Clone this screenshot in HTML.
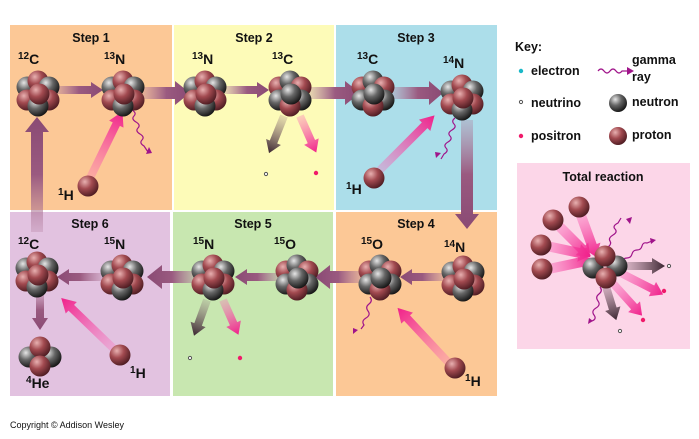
<!DOCTYPE html>
<html><head><meta charset="utf-8"><style>
html,body{margin:0;padding:0;background:#fff}
svg{display:block}
text{font-family:"Liberation Sans",sans-serif;font-weight:bold;fill:#111}
</style></head><body>
<svg width="699" height="439" viewBox="0 0 699 439" xmlns="http://www.w3.org/2000/svg">
<defs>
<radialGradient id="gp" cx="0.35" cy="0.3" r="0.75"><stop offset="0" stop-color="#e8b0b0"/><stop offset="0.45" stop-color="#a24a50"/><stop offset="1" stop-color="#4a1a20"/></radialGradient>
<radialGradient id="gn" cx="0.35" cy="0.3" r="0.75"><stop offset="0" stop-color="#e6e6e6"/><stop offset="0.45" stop-color="#666"/><stop offset="1" stop-color="#111"/></radialGradient>
<linearGradient id="ga" x1="0" y1="0" x2="1" y2="0"><stop offset="0" stop-color="#b07a9a" stop-opacity="0.3"/><stop offset="0.5" stop-color="#9a5a80"/><stop offset="1" stop-color="#8a4a74"/></linearGradient>
<linearGradient id="gk" x1="0" y1="0" x2="1" y2="0"><stop offset="0" stop-color="#fa6ab8" stop-opacity="0.3"/><stop offset="1" stop-color="#f0208a"/></linearGradient>
<linearGradient id="gd" x1="0" y1="0" x2="1" y2="0"><stop offset="0" stop-color="#8a6a78" stop-opacity="0.2"/><stop offset="1" stop-color="#3a2530"/></linearGradient>
<symbol id="p" overflow="visible"><circle r="10.5" fill="url(#gp)"/></symbol>
<symbol id="n" overflow="visible"><circle r="10.5" fill="url(#gn)"/></symbol>
<g id="nucA">
<use href="#n" x="-11" y="-6"/><use href="#p" x="0" y="-12"/><use href="#n" x="11" y="-6"/>
<use href="#p" x="-11" y="7"/><use href="#p" x="11" y="7"/><use href="#n" x="0" y="13"/>
<use href="#p" x="1" y="1"/>
</g>
<g id="nucB">
<use href="#p" x="-11" y="-6"/><use href="#n" x="0" y="-12"/><use href="#p" x="11" y="-6"/>
<use href="#n" x="-11" y="7"/><use href="#n" x="11" y="7"/><use href="#p" x="0" y="13"/>
<use href="#n" x="1" y="1"/>
</g>
</defs>

<rect x="10" y="25" width="162" height="185" fill="#fcc896"/>
<rect x="174" y="25" width="160" height="185" fill="#fdfbb8"/>
<rect x="336" y="25" width="161" height="185" fill="#acdeea"/>
<rect x="10" y="212" width="160" height="184" fill="#e2c2e0"/>
<rect x="173" y="212" width="160" height="184" fill="#c8e7b0"/>
<rect x="336" y="212" width="161" height="184" fill="#fcc896"/>
<rect x="517" y="163" width="173" height="186" fill="#fcd6e8"/>

<g font-size="12.5" text-anchor="middle">
<text x="91" y="42">Step 1</text><text x="254" y="42">Step 2</text><text x="416" y="42">Step 3</text>
<text x="90" y="228">Step 6</text><text x="253" y="228">Step 5</text><text x="416" y="228">Step 4</text>
<text x="603" y="181">Total reaction</text>
</g>

<g fill="url(#ga)">
<g transform="translate(55,90)"><path d="M0,-4H36V-8L48,0L36,8V4H0Z"/></g>
<g transform="translate(143,93)"><path d="M0,-6H32V-12L47,0L32,12V6H0Z"/></g>
<g transform="translate(225,90)"><path d="M0,-4H32V-8L44,0L32,8V4H0Z"/></g>
<g transform="translate(310,93)"><path d="M0,-6H35V-12L50,0L35,12V6H0Z"/></g>
<g transform="translate(393,93)"><path d="M0,-6H36V-12L50,0L36,12V6H0Z"/></g>
<g transform="translate(467,120) rotate(90)"><path d="M0,-6H94V-12L109,0L94,12V6H0Z"/></g>
<g transform="translate(445,277) rotate(180)"><path d="M0,-4H33V-8L45,0L33,8V4H0Z"/></g>
<g transform="translate(362,277) rotate(180)"><path d="M0,-6H32V-12L47,0L32,12V6H0Z"/></g>
<g transform="translate(280,277) rotate(180)"><path d="M0,-4H33V-8L45,0L33,8V4H0Z"/></g>
<g transform="translate(197,277) rotate(180)"><path d="M0,-6H35V-12L50,0L35,12V6H0Z"/></g>
<g transform="translate(103,277) rotate(180)"><path d="M0,-4H34V-8L46,0L34,8V4H0Z"/></g>
<g transform="translate(37,232) rotate(-90)"><path d="M0,-6H100V-12L115,0L100,12V6H0Z"/></g>
<g transform="translate(40,290) rotate(90)"><path d="M0,-4H28V-8L40,0L28,8V4H0Z"/></g>
</g>
<g fill="url(#gk)">
<g transform="translate(90,178) rotate(-64)"><path d="M0,-4H60V-8L74,0L60,8V4H0Z"/></g>
<g transform="translate(378,172) rotate(-45)"><path d="M0,-4H66V-8L80,0L66,8V4H0Z"/></g>
<g transform="translate(113,348) rotate(-136)"><path d="M0,-4H58V-8L72,0L58,8V4H0Z"/></g>
<g transform="translate(448,362) rotate(-133)"><path d="M0,-4H60V-8L74,0L60,8V4H0Z"/></g>
<g transform="translate(300,116) rotate(66)"><path d="M0,-4H28V-8L40,0L28,8V4H0Z"/></g>
<g transform="translate(223,300) rotate(66)"><path d="M0,-4H26V-8L38,0L26,8V4H0Z"/></g>
</g>
<g fill="url(#gd)">
<g transform="translate(284,116) rotate(112)"><path d="M0,-4H28V-8L40,0L28,8V4H0Z"/></g>
<g transform="translate(207,300) rotate(110)"><path d="M0,-4H26V-8L38,0L26,8V4H0Z"/></g>
</g>

<g font-size="14">
<text x="18" y="63"><tspan font-size="10" dy="-4">12</tspan><tspan dy="5">C</tspan></text>
<text x="104" y="63"><tspan font-size="10" dy="-4">13</tspan><tspan dy="5">N</tspan></text>
<text x="192" y="63"><tspan font-size="10" dy="-4">13</tspan><tspan dy="5">N</tspan></text>
<text x="272" y="63"><tspan font-size="10" dy="-4">13</tspan><tspan dy="5">C</tspan></text>
<text x="357" y="63"><tspan font-size="10" dy="-4">13</tspan><tspan dy="5">C</tspan></text>
<text x="443" y="67"><tspan font-size="10" dy="-4">14</tspan><tspan dy="5">N</tspan></text>
<text x="18" y="248"><tspan font-size="10" dy="-4">12</tspan><tspan dy="5">C</tspan></text>
<text x="104" y="248"><tspan font-size="10" dy="-4">15</tspan><tspan dy="5">N</tspan></text>
<text x="193" y="248"><tspan font-size="10" dy="-4">15</tspan><tspan dy="5">N</tspan></text>
<text x="274" y="248"><tspan font-size="10" dy="-4">15</tspan><tspan dy="5">O</tspan></text>
<text x="361" y="248"><tspan font-size="10" dy="-4">15</tspan><tspan dy="5">O</tspan></text>
<text x="444" y="251"><tspan font-size="10" dy="-4">14</tspan><tspan dy="5">N</tspan></text>
<text x="26" y="387"><tspan font-size="10" dy="-4">4</tspan><tspan dy="5">He</tspan></text>
<text x="58" y="199"><tspan font-size="10" dy="-4">1</tspan><tspan dy="5">H</tspan></text>
<text x="346" y="193"><tspan font-size="10" dy="-4">1</tspan><tspan dy="5">H</tspan></text>
<text x="130" y="377"><tspan font-size="10" dy="-4">1</tspan><tspan dy="5">H</tspan></text>
<text x="465" y="385"><tspan font-size="10" dy="-4">1</tspan><tspan dy="5">H</tspan></text>
</g>

<g stroke="#555" fill="#fff" stroke-width="1">
<circle cx="266" cy="174" r="1.6"/><circle cx="190" cy="358" r="1.6"/><circle cx="521" cy="102" r="1.6"/>
<circle cx="669" cy="266" r="1.6"/><circle cx="620" cy="331" r="1.6"/>
</g>
<g fill="#f01a6a">
<circle cx="316" cy="173" r="2.2"/><circle cx="240" cy="358" r="2.2"/><circle cx="521" cy="136" r="2.2"/>
<circle cx="664" cy="291" r="2.2"/><circle cx="643" cy="320" r="2.2"/>
</g>
<circle cx="521" cy="71" r="2.2" fill="#1ab8c8"/>

<g fill="none" stroke="#a0148a" stroke-width="1.2">
<path d="M132,110 q5,3 2,6 t2,6 t2,6 t2,6 t2,6 t2,6 l4,6"/>
<path d="M455,118 q-4,3 -1,6 t-2,6 t-2,6 t-2,6 t-2,6 t-2,6 l-3,5"/>
<path d="M370,297 q3,4 -1,7 t-1,7 t-2,7 t-2,7 l-3,4"/>
<path d="M598,71 q3,-4 6,0 t6,0 t6,0 t6,0 l8,0"/>
<path d="M607,253 q-3,-3 1,-6 t2,-6 t3,-6 t2,-6 t3,-6 l3,-5"/>
<path d="M622,262 q1,-4 5,-4 t5,-4 t5,-4 t5,-4 t5,-3 l5,-2"/>
<path d="M600,287 q3,4 -1,7 t-1,7 t-2,7 t-2,7 t-2,6"/>
</g>
<g fill="#a0148a">
<path d="M146,154 l6,-1 -3,-6z"/><path d="M436,158 l-1,-6 6,1z"/><path d="M353,334 l0,-6 5,2z"/>
<path d="M634,71 l-7,-4 0,8z"/><path d="M632,217 l-6,2 4,5z"/><path d="M656,240 l-6,-2 1,6z"/><path d="M588,324 l1,-6 4,3z"/>
</g>

<g fill="url(#gk)">
<g transform="translate(579,210) rotate(70)"><path d="M0,-5H38V-9L50,0L38,9V5H0Z"/></g>
<g transform="translate(555,222) rotate(45)"><path d="M0,-5H38V-9L50,0L38,9V5H0Z"/></g>
<g transform="translate(542,245) rotate(12)"><path d="M0,-5H38V-9L50,0L38,9V5H0Z"/></g>
<g transform="translate(544,270) rotate(-12)"><path d="M0,-5H38V-9L50,0L38,9V5H0Z"/></g>
<g transform="translate(615,270) rotate(27)"><path d="M0,-4H42V-8L54,0L42,8V4H0Z"/></g>
<g transform="translate(610,280) rotate(48)"><path d="M0,-4H36V-8L48,0L36,8V4H0Z"/></g>
</g>
<g fill="url(#gd)">
<g transform="translate(620,266)"><path d="M0,-4H32V-8L45,0L32,8V4H0Z"/></g>
<g transform="translate(604,280) rotate(73)"><path d="M0,-4H30V-8L42,0L30,8V4H0Z"/></g>
</g>
<use href="#p" x="579" y="207"/><use href="#p" x="553" y="220"/><use href="#p" x="541" y="245"/><use href="#p" x="542" y="269"/>
<use href="#n" x="593" y="268"/><use href="#n" x="617" y="266"/><use href="#p" x="605" y="256"/><use href="#p" x="606" y="278"/>

<use href="#nucA" x="38" y="93"/>
<use href="#nucA" x="123" y="93"/>
<use href="#nucA" x="205" y="93"/>
<use href="#nucB" x="290" y="93"/>
<use href="#nucB" x="373" y="93"/>
<use href="#nucA" x="462" y="97"/>
<use href="#nucA" x="37" y="274"/>
<use href="#nucA" x="122" y="277"/>
<use href="#nucA" x="213" y="277"/>
<use href="#nucB" x="297" y="277"/>
<use href="#nucB" x="380" y="277"/>
<use href="#nucA" x="463" y="278"/>
<use href="#n" x="29" y="357"/><use href="#n" x="51" y="357"/><use href="#p" x="40" y="347"/><use href="#p" x="40" y="366"/>
<use href="#p" x="88" y="186"/><use href="#p" x="374" y="178"/><use href="#p" x="120" y="355"/><use href="#p" x="455" y="368"/>

<text x="515" y="51" font-size="12.5">Key:</text>
<g font-size="12.5">
<text x="531" y="75">electron</text>
<text x="531" y="107">neutrino</text>
<text x="531" y="140">positron</text>
<text x="632" y="64">gamma</text>
<text x="632" y="81">ray</text>
<text x="632" y="106">neutron</text>
<text x="632" y="139">proton</text>
</g>
<circle cx="618" cy="103" r="9" fill="url(#gn)"/>
<circle cx="618" cy="136" r="9" fill="url(#gp)"/>

<text x="10" y="428" font-size="9" style="font-weight:normal">Copyright © Addison Wesley</text>
</svg>
</body></html>
